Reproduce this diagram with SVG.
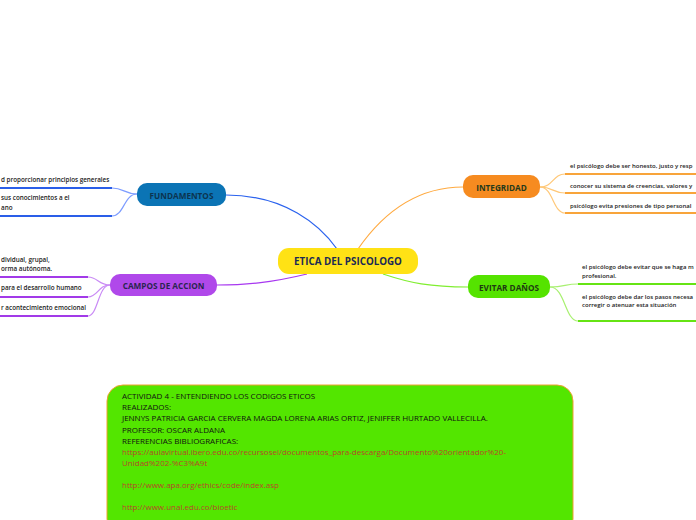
<svg xmlns="http://www.w3.org/2000/svg" width="696" height="520" viewBox="0 0 696 520">
<style>
  .node-t { font-family: "Open Sans", "Noto Sans", sans-serif; font-weight: bold; text-anchor: middle; dominant-baseline: central; }
  .br { font-family: "Open Sans", "Noto Sans", sans-serif; font-size: 6.3px; font-weight: 600; fill: #222; }
  .brr { font-family: "Open Sans", "Noto Sans", sans-serif; font-size: 6px; font-weight: 600; fill: #222; }
  .curve { fill: none; stroke-width: 1.2; }
  .under { fill: none; stroke-width: 2; }
  .info { font-family: "Open Sans", "Noto Sans", sans-serif; font-size: 8px; fill: #111; }
  .link { fill: #b8472a; }
</style>
<rect width="696" height="520" fill="#ffffff"/>
<g id="connectors">
  <path class="curve" d="M226,195 C285,195 320,225 337,249" stroke="#2a62ee" stroke-width="1.5"/>
  <path class="curve" d="M358,249 C385,210 420,187 463,187" stroke="#ffaa40" stroke-width="1.5"/>
  <path class="curve" d="M307,274 C270,283 245,285 217,285" stroke="#a838f0" stroke-width="1.5"/>
  <path class="curve" d="M383,274 C410,283 430,287 468,287" stroke="#80ee30" stroke-width="1.5"/>
  <path class="curve" d="M137,194 C124,194 124,188 112,188" stroke="#7d9cff"/>
  <path class="curve" d="M137,194 C124,194 124,216 112,216" stroke="#7d9cff"/>
  <path class="under" d="M112,188 L0,188" stroke="#2a5ee8"/>
  <path class="under" d="M112,216 L0,216" stroke="#2a5ee8"/>
  <path class="curve" d="M110,285 C98,285 98,277 88,277" stroke="#c98af5"/>
  <path class="curve" d="M110,285 C98,285 98,297 88,297" stroke="#c98af5"/>
  <path class="curve" d="M110,285 C98,285 98,316 88,316" stroke="#c98af5"/>
  <path class="under" d="M88,277 L0,277" stroke="#a23ae8"/>
  <path class="under" d="M88,297 L0,297" stroke="#a23ae8"/>
  <path class="under" d="M88,316 L0,316" stroke="#a23ae8"/>
  <path class="curve" d="M540,187 C553,187 553,174 565,174" stroke="#ffc878"/>
  <path class="curve" d="M540,187 C553,187 553,193 565,193" stroke="#ffc878"/>
  <path class="curve" d="M540,187 C553,187 553,213 565,213" stroke="#ffc878"/>
  <path class="under" d="M565,174 L696,174" stroke="#f8a43a"/>
  <path class="under" d="M565,193 L696,193" stroke="#f8a43a"/>
  <path class="under" d="M565,213 L696,213" stroke="#f8a43a"/>
  <path class="curve" d="M550,287 C565,287 565,284 578,284" stroke="#a8f070"/>
  <path class="curve" d="M550,287 C565,287 565,321 578,321" stroke="#a8f070"/>
  <path class="under" d="M578,284 L696,284" stroke="#66e414"/>
  <path class="under" d="M578,321 L696,321" stroke="#66e414"/>
</g>
<g id="center">
  <rect x="278" y="248" width="140" height="26" rx="11" fill="#ffe215"/>
  <text class="node-t" x="348" y="261.5" font-size="9.8" fill="#1b2a55">ETICA DEL PSICOLOGO</text>
</g>
<g id="fundamentos">
  <rect x="137" y="183" width="89" height="23" rx="10" fill="#0b74b5"/>
  <text class="node-t" x="181.5" y="195" font-size="8.2" fill="#0c3450">FUNDAMENTOS</text>
  <text class="br" x="1" y="182">d proporcionar principios generales</text>
  <text class="br" x="1" y="200">sus conocimientos a el</text>
  <text class="br" x="1" y="210">ano</text>
</g>
<g id="campos">
  <rect x="110" y="274" width="107" height="22" rx="10" fill="#b048ea"/>
  <text class="node-t" x="163.5" y="285.5" font-size="8.2" fill="#2a2550">CAMPOS DE ACCION</text>
  <text class="br" x="1" y="262">dividual,  grupal,</text>
  <text class="br" x="1" y="271">orma autónoma.</text>
  <text class="br" x="1" y="290">para el desarrollo humano</text>
  <text class="br" x="1" y="310">r acontecimiento emocional</text>
</g>
<g id="integridad">
  <rect x="463" y="175" width="77" height="23" rx="10" fill="#f68b20"/>
  <text class="node-t" x="501.5" y="187" font-size="8.2" fill="#243a1c">INTEGRIDAD</text>
  <text class="brr" x="570" y="168">el psicólogo debe ser honesto, justo y resp</text>
  <text class="brr" x="570" y="188">conocer su sistema de creencias, valores y</text>
  <text class="brr" x="570" y="208">psicólogo evita presiones  de tipo personal</text>
</g>
<g id="evitar">
  <rect x="468" y="275" width="82" height="23" rx="10" fill="#55e300"/>
  <text class="node-t" x="509" y="287" font-size="8.2" fill="#1e3a12">EVITAR DAÑOS</text>
  <text class="brr" x="582" y="269">el psicólogo debe evitar que se haga m</text>
  <text class="brr" x="582" y="278">profesional.</text>
  <text class="brr" x="582" y="299">el psicólogo debe dar los pasos necesa</text>
  <text class="brr" x="582" y="306.5">corregir o atenuar esta situación</text>
</g>
<g id="info">
  <rect x="107" y="385" width="466" height="150" rx="16" fill="#53e600" stroke="#f0a030" stroke-width="1"/>
  <text class="info" x="122" y="399">ACTIVIDAD 4  - ENTENDIENDO LOS CODIGOS ETICOS</text>
  <text class="info" x="122" y="410">REALIZADOS:</text>
  <text class="info" x="122" y="421">JENNYS PATRICIA GARCIA CERVERA MAGDA LORENA ARIAS ORTIZ, JENIFFER HURTADO VALLECILLA.</text>
  <text class="info" x="122" y="433">PROFESOR:  OSCAR ALDANA</text>
  <text class="info" x="122" y="444">REFERENCIAS  BIBLIOGRAFICAS:</text>
  <text class="info link" x="122" y="455">https://aulavirtual.ibero.edu.co/recursosel/documentos_para-descarga/Documento%20orientador%20-</text>
  <text class="info link" x="122" y="466">Unidad%202-%C3%A9t</text>
  <text class="info link" x="122" y="488">http://www.apa.org/ethics/code/index.asp</text>
  <text class="info link" x="122" y="510">http://www.unal.edu.co/bioetic</text>
</g>
</svg>
